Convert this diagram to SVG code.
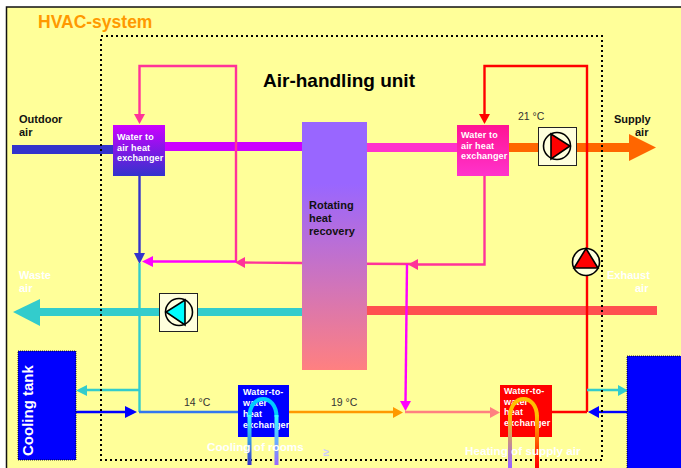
<svg xmlns="http://www.w3.org/2000/svg" width="681" height="468" viewBox="0 0 681 468">
<style>
text{font-family:"Liberation Sans",Arial,sans-serif;font-weight:bold}
.s{font-size:11px;fill:#111}
.w{font-size:11px;fill:#fff}
.b{font-size:11.700px;fill:#fff}
.x{font-size:9px;fill:#fff;letter-spacing:.15px}
.t{font-size:10.500px;fill:#333;font-weight:normal}
.l{fill:none;stroke-width:2.400}
.box{fill:#ffffdd;stroke:#222;stroke-width:1}
.c{stroke:#000;stroke-width:1.600}
</style>
<defs>
<linearGradient id="g1" x1="0" y1="0" x2="0" y2="1"><stop offset="0" stop-color="#cc00ff"/><stop offset="1" stop-color="#3333cc"/></linearGradient>
<linearGradient id="g2" x1="0" y1="0" x2="0" y2="1"><stop offset="0" stop-color="#ff1493"/><stop offset="1" stop-color="#ff33cc"/></linearGradient>
<linearGradient id="g3" x1="0" y1="0" x2="0" y2="1"><stop offset="0" stop-color="#9966ff"/><stop offset="0.250" stop-color="#9966ff"/><stop offset="1" stop-color="#ff8080"/></linearGradient>
<linearGradient id="u1" gradientUnits="userSpaceOnUse" x1="0" y1="415" x2="0" y2="465"><stop offset="0" stop-color="#33ffff"/><stop offset="1" stop-color="#3333cc"/></linearGradient>
<linearGradient id="u2" gradientUnits="userSpaceOnUse" x1="0" y1="415" x2="0" y2="465"><stop offset="0" stop-color="#33ffff"/><stop offset="1" stop-color="#9966ff"/></linearGradient>
<linearGradient id="u3" gradientUnits="userSpaceOnUse" x1="0" y1="415" x2="0" y2="465"><stop offset="0" stop-color="#ffbf00"/><stop offset="1" stop-color="#9966ff"/></linearGradient>
<linearGradient id="u4" gradientUnits="userSpaceOnUse" x1="0" y1="415" x2="0" y2="465"><stop offset="0" stop-color="#ffbf00"/><stop offset="1" stop-color="#ff0000"/></linearGradient>
</defs>
<rect width="681" height="468" fill="#fff"/>
<rect x="6.500" y="7" width="680" height="466" fill="#ffff99" stroke="#111" stroke-width="1.500"/>
<text id="title" x="38" y="28" font-size="17.500" fill="#ff9900">HVAC-system</text>
<text id="unit" x="263" y="87" font-size="19" fill="#000">Air-handling unit</text>

<g id="connectors">
<rect x="12" y="145" width="101" height="9" fill="#3333cc"/>
<rect x="165" y="142" width="137" height="9" fill="#cc00ff"/>
<rect x="367" y="143" width="90" height="9" fill="#ff33cc"/>
<rect x="509" y="143" width="122" height="9" fill="#ff6600"/>
<path d="M629 134L656 147.500L629 161Z" fill="#ff6600"/>
<rect x="40" y="308" width="262" height="8" fill="#33cccc"/>
<path d="M40 299L13 312L40 326Z" fill="#33cccc"/>
<rect x="367" y="306" width="290" height="9" fill="#ff5050"/>
<path class="l" stroke="#ff3399" d="M236 262V66H139.500V115"/>
<path fill="#ff3399" d="M134 114H145L139.500 124Z"/>
<path class="l" stroke="#3333cc" d="M139.500 176V255"/>
<path fill="#3333cc" d="M134 253H145L139.500 264Z"/>
<path class="l" stroke="#33cccc" d="M139.500 263V412"/>
<path class="l" stroke="#3377ee" d="M139 412H238"/>
<path class="l" stroke="#ff00ff" d="M150 261.500H236"/>
<path fill="#ff00ff" d="M153 256V267L142 261.500Z"/>
<path class="l" stroke="#ff3399" d="M240 262.500L302 263"/>
<path fill="#ff3399" d="M245 257V268L235 262.500Z"/>
<path class="l" stroke="#ff3399" d="M302 263.500L415 264M415 264.500H484.500V176"/>
<path fill="#ff3399" d="M418 259V270L408 264.500Z"/>
<path class="l" stroke="#ff00ff" d="M407 264L405.500 403"/>
<path fill="#ff00ff" d="M400 401H411L405.500 411Z"/>
<path class="l" stroke="#ff0000" d="M587 412V66H484.500V115"/>
<path fill="#ff0000" d="M479 114H490L484.500 124Z"/>
<path class="l" stroke="#ff0000" d="M552 412H587"/>
<path class="l" stroke="#33cccc" d="M139 390H85"/>
<path fill="#33cccc" d="M87 385V396L76 390.500Z"/>
<path class="l" stroke="#0000ff" d="M76 412H127"/>
<path fill="#0000ff" d="M125 406V418L137 412Z"/>
<path class="l" stroke="#ff9900" d="M289 412H395"/>
<path fill="#ff9900" d="M393 407V418L403 412.500Z"/>
<path class="l" stroke="#ff8080" d="M405 412H492"/>
<path fill="#ff8080" d="M490 407V418L500 412.500Z"/>
<path class="l" stroke="#33cccc" d="M587 390H620"/>
<path fill="#33cccc" d="M618 385V396L628 390.500Z"/>
<path class="l" stroke="#0000ff" d="M627 412H597"/>
<path fill="#0000ff" d="M599 406V418L588 412Z"/>
</g>

<rect id="boundary" x="101" y="36" width="501" height="424" fill="none" stroke="#000" stroke-width="2" stroke-dasharray="2 3"/>

<g id="hx-cooling-air"><rect x="113" y="125" width="52" height="51" fill="url(#g1)"/>
<text class="x" x="117" y="140">Water to</text><text class="x" x="117" y="151">air heat</text><text class="x" x="117" y="161">exchanger</text></g>
<g id="hx-heating-air"><rect x="457" y="125" width="52" height="51" fill="url(#g2)"/>
<text class="x" x="461" y="138">Water to</text><text class="x" x="461" y="149">air heat</text><text class="x" x="461" y="159">exchanger</text></g>
<g id="rotating"><rect x="302" y="122" width="65" height="248" fill="url(#g3)"/>
<text class="s" x="309" y="209">Rotating</text><text class="s" x="309" y="222">heat</text><text class="s" x="309" y="235">recovery</text></g>

<g id="supply-fan"><rect class="box" x="538.500" y="127.500" width="38" height="38"/>
<circle class="c" cx="557" cy="146" r="13.500" fill="#ffffdd"/><path class="c" d="M551 134V159L570 146Z" fill="#ff0000"/></g>
<g id="exhaust-fan"><rect class="box" x="159.500" y="293.500" width="38" height="38"/>
<circle class="c" cx="179" cy="312" r="13.500" fill="#ffffdd"/><path class="c" d="M185 300V325L166 312Z" fill="#00ffff"/></g>
<g id="circ-pump"><circle class="c" cx="586" cy="262" r="13.500" fill="#ffffdd"/><path class="c" d="M586 248.500L598 268H574Z" fill="#ff0000"/></g>

<g id="cooling-tank"><rect x="18" y="351" width="58" height="109" fill="#0000ff" stroke="#000" stroke-width="0.800" stroke-dasharray="1 1"/>
<text transform="translate(33 456) rotate(-90)" font-size="15" fill="#fff">Cooling tank</text></g>
<g id="heating-tank"><rect x="627" y="356" width="60" height="120" fill="#0000ff" stroke="#000" stroke-width="0.800" stroke-dasharray="1 1"/></g>

<g id="hx-cooling-water"><rect x="238" y="385" width="51" height="52" fill="#0000ff"/>
<text class="x" x="243" y="395">Water-to-</text><text class="x" x="243" y="406">water</text><text class="x" x="243" y="417">heat</text><text class="x" x="243" y="428">exchanger</text>
<path d="M249.500 417C249.500 393 276.500 393 276.500 417" fill="none" stroke="#00ccff" stroke-width="4"/>
<rect x="247.500" y="415" width="4" height="50" fill="url(#u1)"/><rect x="274.500" y="415" width="4" height="50" fill="url(#u2)"/></g>
<g id="hx-heating-water"><rect x="500" y="385" width="52" height="52" fill="#ff0000"/>
<text class="x" x="504" y="394">Water-to-</text><text class="x" x="504" y="405">water</text><text class="x" x="504" y="415">heat</text><text class="x" x="504" y="426">exchanger</text>
<path d="M510 417C510 393 537 393 537 417" fill="none" stroke="#ffbf00" stroke-width="4"/>
<rect x="508" y="415" width="4" height="53" fill="url(#u3)"/><rect x="535" y="415" width="4" height="53" fill="url(#u4)"/></g>

<g id="labels">
<text class="s" x="19" y="123">Outdoor</text><text class="s" x="19" y="136">air</text>
<text class="s" x="614" y="123">Supply</text><text class="s" x="635" y="136">air</text>
<text class="w" x="19" y="279">Waste</text><text class="w" x="19" y="292">air</text>
<text class="w" x="607" y="279">Exhaust</text><text class="w" x="635" y="292">air</text>
<text class="t" x="518" y="120">21 °C</text><text class="t" x="184" y="406">14 °C</text><text class="t" x="331" y="406">19 °C</text>
<text class="b" x="207" y="451">Cooling of rooms</text>
<text class="b" x="465" y="455">Heating of supply air</text>
<text x="323" y="456" font-size="11" fill="#ccccff" font-weight="normal">≥</text>
</g>
</svg>
